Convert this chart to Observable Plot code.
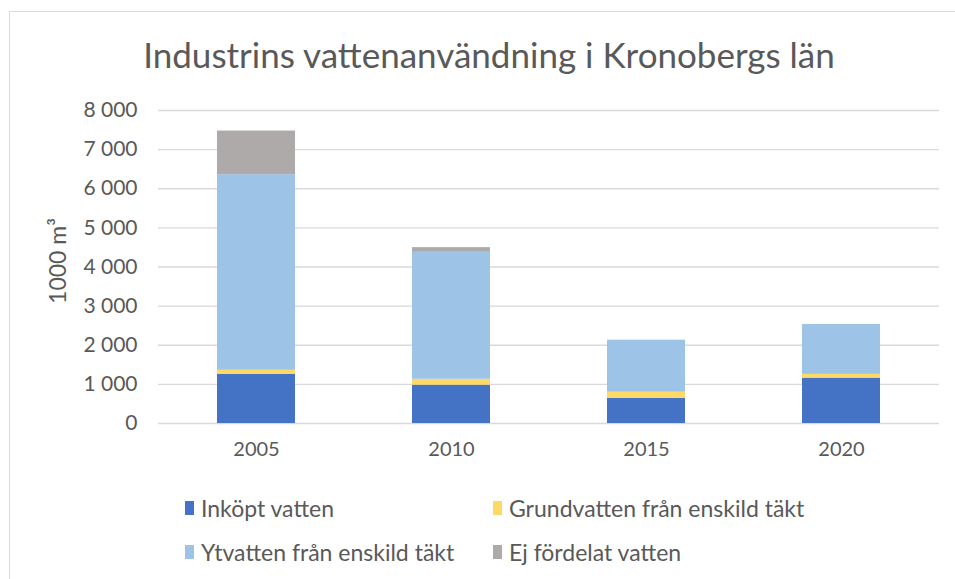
<!DOCTYPE html>
<html>
<head>
<meta charset="utf-8">
<script src="https://cdn.jsdelivr.net/npm/d3@7"></script>
<script src="https://cdn.jsdelivr.net/npm/@observablehq/plot@0.6"></script>
<style>
  html, body { margin: 0; padding: 0; background: #fff; }
  #wrap { position: relative; width: 955px; height: 579px; overflow: hidden; font-family: Lato, "Open Sans", sans-serif; color: #595959; }
  #frame { position: absolute; left: 9px; top: 11px; width: 1000px; height: 700px; border: 1.5px solid #D9D9D9; box-sizing: border-box; }
  #title { position: absolute; left: 0; top: 31px; width: 978px; text-align: center; font-size: 35px; line-height: 46px; white-space: nowrap; }
  #chart { position: absolute; left: 0; top: 95px; }
  #legend { position: absolute; left: 0; top: 0; width: 955px; }
  .item { position: absolute; display: flex; align-items: center; font-size: 23px; line-height: 26px; white-space: nowrap; transform: translateY(-50%); }
  .sw { width: 9px; height: 14px; margin-right: 7px; }
</style>
</head>
<body>
<div id="wrap">
  <div id="frame"></div>
  <div id="title">Industrins vattenanvändning i Kronobergs län</div>
  <div id="chart"></div>
  <div id="legend"></div>
</div>
<script>
const years = ["2005", "2010", "2015", "2020"];
const seriesNames = ["Inköpt vatten", "Grundvatten från enskild täkt", "Ytvatten från enskild täkt", "Ej fördelat vatten"];
const inkoptVatten = [1260, 980, 640, 1160];
const grundvatten = [100, 150, 160, 95];
const ytvatten = [5000, 3245, 1330, 1275];
const ejFordelat = [1115, 120, 0, 0];
const colors = ["#4472C4", "#FFD966", "#9DC3E6", "#AEAAAA"];
const yTicks = [0, 1000, 2000, 3000, 4000, 5000, 6000, 7000, 8000];
const yLabel = "1000 m³";

const seriesValues = [inkoptVatten, grundvatten, ytvatten, ejFordelat];
const data = [];
seriesNames.forEach((s, i) => {
  years.forEach((y, j) => data.push({year: y, series: s, value: seriesValues[i][j]}));
});

const locale = d3.formatLocale({decimal: ",", thousands: "\u00a0", grouping: [3]});
const fmt = locale.format(",d");

const chart = Plot.plot({
  width: 955,
  height: 385,
  marginTop: 15,
  marginBottom: 57,
  marginLeft: 158,
  marginRight: 16,
  style: {fontSize: "20px", fontFamily: "Lato, 'Open Sans', sans-serif", color: "#595959", background: "transparent"},
  x: {domain: years, paddingInner: 0.6, paddingOuter: 0.3, label: null},
  y: {domain: [0, 8000], label: null},
  color: {domain: seriesNames, range: colors},
  marks: [
    Plot.gridY(yTicks, {stroke: "#D9D9D9", strokeOpacity: 1, strokeWidth: 1.3}),
    Plot.barY(data, {x: "year", y: "value", fill: "series", order: seriesNames}),
    Plot.axisX({tickSize: 0, tickPadding: 18, label: null, fontSize: 20}),
    Plot.axisY({ticks: yTicks, tickFormat: fmt, tickSize: 0, tickPadding: 21, label: null, fontSize: 21}),
    Plot.text([yLabel], {frameAnchor: "left", textAnchor: "middle", rotate: -90, dx: -100, dy: -6, fontSize: 23, fill: "#595959"})
  ]
});
document.getElementById("chart").appendChild(chart);

const legendPos = [[185, 508], [493, 508], [185, 552], [493, 552]];
const legend = document.getElementById("legend");
seriesNames.forEach((s, i) => {
  const el = document.createElement("div");
  el.className = "item";
  el.style.left = legendPos[i][0] + "px";
  el.style.top = legendPos[i][1] + "px";
  el.innerHTML = `<span class="sw" style="background:${colors[i]}"></span><span>${s}</span>`;
  legend.appendChild(el);
});
</script>
</body>
</html>
